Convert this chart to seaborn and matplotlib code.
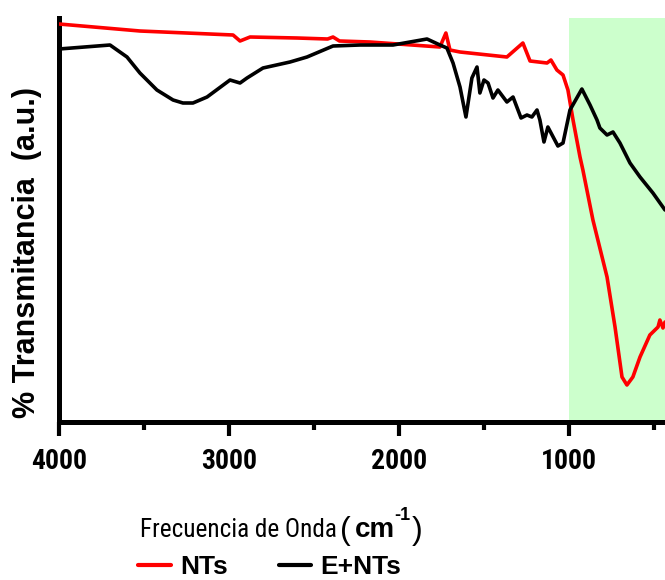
import matplotlib
matplotlib.use("Agg")
import matplotlib.pyplot as plt
import numpy as np
import pandas as pd
import seaborn as sns
from matplotlib import font_manager as fm

# ---------------- data ----------------
nts_wavenumber = [4000, 3524, 2976, 2935, 2876, 2600, 2420, 2388, 2350, 2171, 1759, 1724, 1700,
                  1641, 1365, 1271, 1229, 1129, 1106, 1071, 1035, 1006, 976, 935, 918,
                  859, 776, 729, 688, 659, 624, 582, 524, 476, 465, 447, 435]
nts_transmittance = [398, 391, 387, 381, 385, 384, 383, 385, 381, 380, 375, 389, 372,
                     370, 365, 379, 361, 359, 362, 352, 347, 332, 302, 265, 252,
                     202, 145, 95, 45, 37, 45, 65, 87, 95, 102, 94, 100]

ent_wavenumber = [4000, 3700, 3600, 3524, 3424, 3329, 3271, 3212, 3129, 2994, 2935, 2894, 2800,
                  2641, 2541, 2388, 2229, 2035, 1835, 1759, 1718, 1682, 1641, 1606, 1571,
                  1541, 1524, 1500, 1476, 1447, 1418, 1365, 1329, 1282, 1247, 1218, 1188,
                  1171, 1147, 1124, 1065, 1035, 994, 924, 876, 835, 818, 776, 741,
                  700, 641, 582, 506, 435]
ent_transmittance = [373, 377, 365, 349, 332, 322, 319, 319, 325, 342, 339, 344, 354,
                     360, 365, 376, 377, 377, 383, 377, 374, 359, 335, 305, 344,
                     355, 329, 342, 339, 324, 332, 320, 325, 304, 307, 305, 312,
                     302, 280, 295, 276, 279, 312, 333, 317, 302, 294, 287, 290,
                     279, 259, 245, 229, 212]

series_names = ["NTs", "E+NTs"]
series_colors = ["#ff0000", "#000000"]
major_ticks = [4000, 3000, 2000, 1000]
minor_ticks = [3500, 2500, 1500, 500]
highlight_range = [1000, 435]

# ---------------- build table ----------------
df = pd.concat([
    pd.DataFrame({"wn": nts_wavenumber, "T": nts_transmittance, "muestra": series_names[0]}),
    pd.DataFrame({"wn": ent_wavenumber, "T": ent_transmittance, "muestra": series_names[1]}),
], ignore_index=True)

sns.set_theme(style="white")
avail = {f.name for f in fm.fontManager.ttflist}
narrow = "Liberation Sans"
for cand in ["Liberation Sans Narrow", "Arial Narrow", "Roboto Condensed"]:
    if cand in avail:
        narrow = cand
        break
plt.rcParams["font.family"] = ["Liberation Sans", "DejaVu Sans"]
plt.rcParams["text.color"] = "black"
plt.rcParams["xtick.color"] = "black"
plt.rcParams["axes.labelcolor"] = "black"

W, H = 665, 580
fig = plt.figure(figsize=(W / 100, H / 100), dpi=100)
ax = fig.add_axes([59 / W, 158 / H, 1 - 59 / W, (422 - 18) / H])

ax.axvspan(highlight_range[0], highlight_range[1], color="#ccffcc", lw=0, zorder=0)

sns.lineplot(data=df, x="wn", y="T", hue="muestra", hue_order=series_names,
             palette=dict(zip(series_names, series_colors)), estimator=None,
             sort=True, linewidth=2.6, ax=ax, legend=True, zorder=3)

ax.set_xlim(4000, 435)
ax.set_ylim(0, 404)
ax.set_yticks([])
ax.set_xticks(major_ticks)
ax.set_xticks(minor_ticks, minor=True)
ax.set_xticklabels([str(t) for t in major_ticks], fontfamily=[narrow, "DejaVu Sans"],
                   fontweight="bold", fontsize=20, color="black")
ax.tick_params(axis="x", which="major", direction="out", length=10, width=3,
               color="black", pad=9, bottom=True)
ax.tick_params(axis="x", which="minor", direction="out", length=6, width=3,
               color="black", bottom=True)
for s in ["top", "right"]:
    ax.spines[s].set_visible(False)
for s in ["left", "bottom"]:
    ax.spines[s].set_linewidth(3.6)
    ax.spines[s].set_color("black")
ax.set_xlabel("")
ax.set_ylabel("")

handles, labels = ax.get_legend_handles_labels()
ax.get_legend().remove()
for h in handles:
    h.set_linewidth(3)
fig.legend(handles, labels, loc="center", bbox_to_anchor=(270 / W, 1 - 567 / H),
           ncol=2, frameon=False, handlelength=1.25, handletextpad=0.35,
           columnspacing=1.9, borderpad=0, prop={"family": ["Liberation Sans", "DejaVu Sans"],
                                                   "weight": "bold", "size": 19})

fig.text(27 / W, 1 - 252 / H, "% Transmitancia  (a.u.)", rotation=90, ha="center",
         va="center", fontsize=22, fontweight="bold")
fig.text(337 / W, 1 - 537 / H, "Frecuencia de Onda", ha="right", va="baseline",
         fontsize=18.2, fontfamily=[narrow, "DejaVu Sans"])
fig.text(340 / W, 1 - 539 / H, "(", ha="left", va="baseline", fontsize=23)
fig.text(355 / W, 1 - 537 / H, "cm", ha="left", va="baseline", fontsize=20,
         fontweight="bold")
fig.text(394 / W, 1 - 520 / H, "-1", ha="left", va="baseline", fontsize=13,
         fontweight="bold")
fig.text(412 / W, 1 - 539 / H, ")", ha="left", va="baseline", fontsize=23)

fig.savefig("out.png", dpi=100)
